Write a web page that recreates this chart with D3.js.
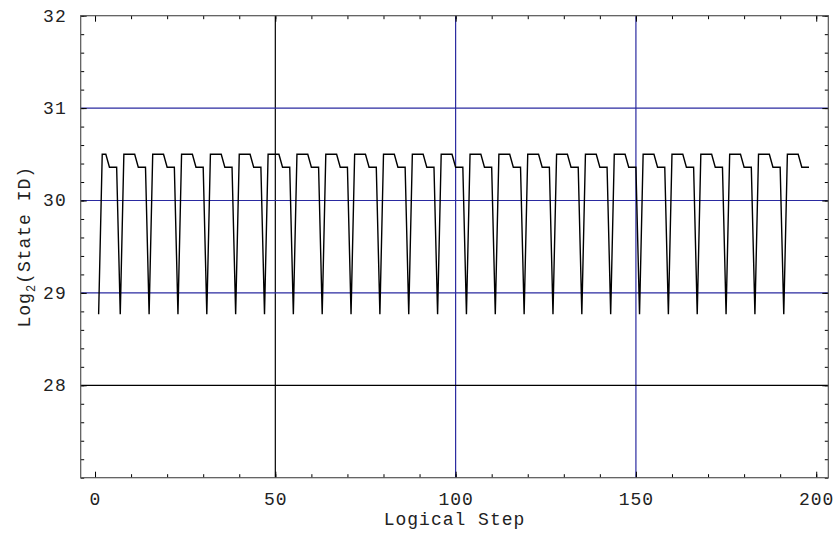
<!DOCTYPE html>
<html>
<head>
<meta charset="utf-8">
<script src="https://cdn.jsdelivr.net/npm/d3@7"></script>
<style>
  html, body { margin: 0; padding: 0; background: #fff; }
  svg { display: block; }
  text { font-family: "Liberation Mono", "Courier New", monospace; fill: #222; }
</style>
</head>
<body>
<svg id="chart" width="836" height="537"></svg>
<script>
// State ID (log2) visited at each logical step, starting at step 1
const stateLog2 = [
  28.77, 30.50, 30.50, 30.36, 30.36, 30.36,
  28.77, 30.50, 30.50, 30.50, 30.50, 30.36, 30.36, 30.36,
  28.77, 30.50, 30.50, 30.50, 30.50, 30.36, 30.36, 30.36,
  28.77, 30.50, 30.50, 30.50, 30.50, 30.36, 30.36, 30.36,
  28.77, 30.50, 30.50, 30.50, 30.50, 30.36, 30.36, 30.36,
  28.77, 30.50, 30.50, 30.50, 30.50, 30.36, 30.36, 30.36,
  28.77, 30.50, 30.50, 30.50, 30.50, 30.36, 30.36, 30.36,
  28.77, 30.50, 30.50, 30.50, 30.50, 30.36, 30.36, 30.36,
  28.77, 30.50, 30.50, 30.50, 30.50, 30.36, 30.36, 30.36,
  28.77, 30.50, 30.50, 30.50, 30.50, 30.36, 30.36, 30.36,
  28.77, 30.50, 30.50, 30.50, 30.50, 30.36, 30.36, 30.36,
  28.77, 30.50, 30.50, 30.50, 30.50, 30.36, 30.36, 30.36,
  28.77, 30.50, 30.50, 30.50, 30.50, 30.36, 30.36, 30.36,
  28.77, 30.50, 30.50, 30.50, 30.50, 30.36, 30.36, 30.36,
  28.77, 30.50, 30.50, 30.50, 30.50, 30.36, 30.36, 30.36,
  28.77, 30.50, 30.50, 30.50, 30.50, 30.36, 30.36, 30.36,
  28.77, 30.50, 30.50, 30.50, 30.50, 30.36, 30.36, 30.36,
  28.77, 30.50, 30.50, 30.50, 30.50, 30.36, 30.36, 30.36,
  28.77, 30.50, 30.50, 30.50, 30.50, 30.36, 30.36, 30.36,
  28.77, 30.50, 30.50, 30.50, 30.50, 30.36, 30.36, 30.36,
  28.77, 30.50, 30.50, 30.50, 30.50, 30.36, 30.36, 30.36,
  28.77, 30.50, 30.50, 30.50, 30.50, 30.36, 30.36, 30.36,
  28.77, 30.50, 30.50, 30.50, 30.50, 30.36, 30.36, 30.36,
  28.77, 30.50, 30.50, 30.50, 30.50, 30.36, 30.36, 30.36,
  28.77, 30.50, 30.50, 30.50, 30.50, 30.36, 30.36, 30.36
];
const firstStep = 1;

// Axis ticks and grid lines
const xMajorTicks = [0, 50, 100, 150, 200];
const xMinorTicks = d3.range(0, 201, 10);
const yMajorTicks = [28, 29, 30, 31, 32];
const yMinorTicks = d3.range(27, 32.001, 0.2);
const gridBlue = "#2a2aa0";
const xGrid = [{ v: 50, c: "#000" }, { v: 100, c: gridBlue }, { v: 150, c: gridBlue }];
const yGrid = [{ v: 31, c: gridBlue }, { v: 30, c: gridBlue }, { v: 29, c: gridBlue }, { v: 28, c: "#000" }];

const svg = d3.select("#chart");
const plot = { left: 80.7, right: 828.3, top: 15.7, bottom: 477.7 };
const labelFont = "18px";

const x = d3.scaleLinear().domain([-3.97, 203.35]).range([plot.left, plot.right]);
const y = d3.scaleLinear().domain([27, 32]).range([plot.bottom, plot.top]);

// grid lines
svg.append("g").selectAll("line").data(xGrid).join("line")
  .attr("x1", d => x(d.v)).attr("x2", d => x(d.v))
  .attr("y1", plot.top).attr("y2", plot.bottom)
  .attr("stroke", d => d.c).attr("stroke-width", 1.2);
svg.append("g").selectAll("line").data(yGrid).join("line")
  .attr("x1", plot.left).attr("x2", plot.right)
  .attr("y1", d => y(d.v)).attr("y2", d => y(d.v))
  .attr("stroke", d => d.c).attr("stroke-width", 1.2);

// data line
const line = d3.line().x((d, i) => x(firstStep + i)).y(d => y(d));
svg.append("path").datum(stateLog2)
  .attr("d", line)
  .attr("fill", "none")
  .attr("stroke", "#000")
  .attr("stroke-width", 1.4);

// frame ticks on all four sides, pointing inward
function tickAxis(gen, values, size, transform, labels) {
  const g = svg.append("g").attr("transform", transform)
    .call(gen.tickValues(values).tickSizeInner(size).tickSizeOuter(0)
      .tickFormat(labels ? d3.format("d") : () => ""));
  g.select(".domain").remove();
  g.selectAll(".tick line").attr("stroke", "#000").attr("stroke-width", 1);
  g.selectAll(".tick text")
    .style("font-family", '"Liberation Mono", monospace')
    .style("font-size", labelFont).style("letter-spacing", "1px")
    .attr("fill", "#222");
  return g;
}
tickAxis(d3.axisBottom(x), xMinorTicks, -3.5, `translate(0,${plot.bottom})`, false);
tickAxis(d3.axisTop(x), xMinorTicks, -3.5, `translate(0,${plot.top})`, false);
tickAxis(d3.axisLeft(y), yMinorTicks, -3.5, `translate(${plot.left},0)`, false);
tickAxis(d3.axisRight(y), yMinorTicks, -3.5, `translate(${plot.right},0)`, false);
tickAxis(d3.axisTop(x), xMajorTicks, -6, `translate(0,${plot.top})`, false);
tickAxis(d3.axisRight(y), yMajorTicks, -6, `translate(${plot.right},0)`, false);

const xLab = tickAxis(d3.axisBottom(x), xMajorTicks, -6, `translate(0,${plot.bottom})`, true);
xLab.selectAll(".tick text").attr("y", 27.3).attr("dy", null);
const yLab = tickAxis(d3.axisLeft(y), yMajorTicks, -6, `translate(${plot.left},0)`, true);
yLab.selectAll(".tick text").attr("x", -14).attr("dy", "0.3em");

// frame
svg.append("rect")
  .attr("x", plot.left).attr("y", plot.top)
  .attr("width", plot.right - plot.left).attr("height", plot.bottom - plot.top)
  .attr("fill", "none").attr("stroke", "#555").attr("stroke-width", 1.2);

// axis titles
svg.append("text")
  .attr("x", (plot.left + plot.right) / 2).attr("y", 525)
  .attr("text-anchor", "middle").style("font-size", labelFont).style("letter-spacing", "1px")
  .text("Logical Step");

const yt = svg.append("text")
  .attr("transform", `translate(30,${(plot.top + plot.bottom) / 2}) rotate(-90)`)
  .attr("text-anchor", "middle").style("font-size", labelFont).style("letter-spacing", "1px");
yt.append("tspan").text("Log");
yt.append("tspan").attr("dy", 5).style("font-size", "12px").text("2");
yt.append("tspan").attr("dy", -5).text("(State ID)");
</script>
</body>
</html>
